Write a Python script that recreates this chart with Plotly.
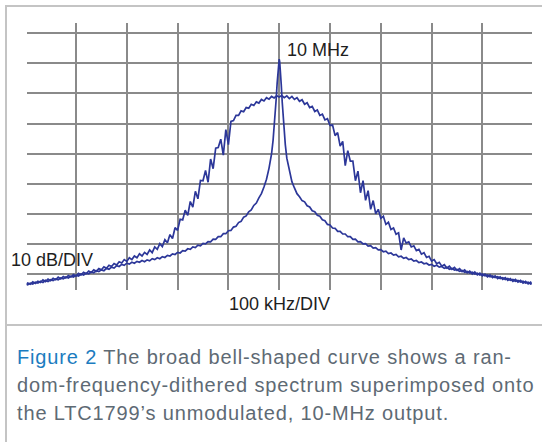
import plotly.graph_objects as go

# ---------------- data ----------------
# Broad, random-frequency-dithered spectrum: offset from 10 MHz (kHz) and level (dB)
bell_freq_khz = [
    -500, -495, -490, -485, -480, -475, -470, -465, -460, -455, -450, -445, -440, -435, -430, -425, -420, -415, -410, -405, -400,
    -395, -390, -385, -380, -375, -370, -365, -360, -355, -350, -345, -340, -335, -330, -325, -320, -315, -310, -305, -300,
    -295, -290, -285, -280, -275, -270, -265, -260, -255, -250, -245, -240, -235, -230, -225, -220, -215, -210, -205, -200,
    -195, -190, -185, -180, -175, -170, -165, -160, -155, -150, -145, -140, -135, -130, -125, -120, -115, -110, -105, -100,
    -95, -90, -85, -80, -75, -70, -65, -60, -55, -50, -45, -40, -35, -30, -25, -20, -15, -10, -5, 0,
    5, 10, 15, 20, 25, 30, 35, 40, 45, 50, 55, 60, 65, 70, 75, 80, 85, 90, 95, 100,
    105, 110, 115, 120, 125, 130, 135, 140, 145, 150, 155, 160, 165, 170, 175, 180, 185, 190, 195, 200,
    205, 210, 215, 220, 225, 230, 235, 240, 245, 250, 255, 260, 265, 270, 275, 280, 285, 290, 295, 300,
    305, 310, 315, 320, 325, 330, 335, 340, 345, 350, 355, 360, 365, 370, 375, 380, 385, 390, 395, 400,
    405, 410, 415, 420, 425, 430, 435, 440, 445, 450, 455, 460, 465, 470, 475, 480, 485, 490, 495, 500,
]
bell_level_db = [
    -83.6, -83.0, -83.4, -82.6, -83.1, -82.4, -82.8, -81.9, -82.5, -81.7, -82.2, -81.4, -81.9, -81.0, -81.6, -80.8, -81.3, -80.5, -81.0, -80.2, -80.7,
    -79.8, -80.3, -79.4, -79.9, -79.0, -79.5, -78.6, -79.1, -78.2, -78.6, -77.6, -78.1, -77.1, -77.5, -76.5, -77.0, -75.9, -76.3, -75.2, -75.8,
    -74.6, -75.2, -74.0, -74.6, -73.3, -74.0, -72.8, -73.5, -72.0, -72.9, -71.0, -71.8, -69.9, -70.9, -68.6, -69.6, -66.9, -68.2, -64.6, -65.5,
    -61.8, -62.0, -58.8, -60.5, -55.9, -57.8, -52.5, -55.0, -48.9, -49.0, -45.6, -49.5, -41.8, -45.0, -38.2, -38.0, -35.2, -40.5, -32.0, -37.0,
    -29.3, -29.0, -27.3, -27.3, -25.8, -26.1, -24.7, -24.9, -23.6, -24.0, -22.8, -23.2, -22.0, -22.5, -21.4, -21.9, -21.0, -21.5, -20.8, -21.2,
    -20.7, -21.4, -20.8, -21.7, -21.0, -22.0, -21.4, -22.6, -22.1, -23.6, -23.1, -24.7, -24.3, -26.0, -25.5, -27.3, -26.9, -28.8, -28.4, -30.6,
    -30.5, -34.0, -33.0, -37.5, -35.9, -44.0, -39.0, -42.5, -42.5, -49.0, -45.8, -53.0, -49.0, -55.5, -52.3, -58.5, -55.6, -60.0, -58.5, -61.5,
    -60.8, -63.5, -62.8, -65.2, -64.7, -66.8, -66.3, -72.0, -68.0, -69.7, -69.3, -71.0, -70.6, -72.2, -71.8, -73.4, -72.9, -74.5, -74.1, -75.7,
    -75.2, -76.6, -76.1, -77.4, -76.9, -78.0, -77.4, -78.4, -77.8, -78.8, -78.2, -79.2, -78.6, -79.6, -79.0, -80.0, -79.3, -80.3, -79.7, -80.6,
    -80.0, -80.9, -80.3, -81.2, -80.6, -81.5, -80.9, -81.8, -81.2, -82.1, -81.5, -82.4, -81.8, -82.7, -82.1, -83.0, -82.4, -83.3, -82.7, -83.5,
]

# Unmodulated 10-MHz output: offset from 10 MHz (kHz) and level (dB)
carrier_freq_khz = [
    -500, -495, -490, -485, -480, -475, -470, -465, -460, -455, -450, -445, -440, -435, -430, -425, -420, -415, -410, -405, -400,
    -395, -390, -385, -380, -375, -370, -365, -360, -355, -350, -345, -340, -335, -330, -325, -320, -315, -310, -305, -300,
    -295, -290, -285, -280, -275, -270, -265, -260, -255, -250, -245, -240, -235, -230, -225, -220, -215, -210, -205, -200,
    -195, -190, -185, -180, -175, -170, -165, -160, -155, -150, -145, -140, -135, -130, -125, -120, -115, -110, -105, -100,
    -95, -90, -85, -80, -75, -70, -65, -60, -55, -50, -45, -40, -35, -30,
    -25, -20, -15, -12, -10, -8, -6, -4, -3, -2, -1, 0, 1, 2, 3, 4, 6, 8, 10, 12, 15, 20, 25,
    30, 35, 40, 45, 50, 55, 60, 65, 70, 75, 80, 85, 90, 95, 100,
    105, 110, 115, 120, 125, 130, 135, 140, 145, 150, 155, 160, 165, 170, 175, 180, 185, 190, 195, 200,
    205, 210, 215, 220, 225, 230, 235, 240, 245, 250, 255, 260, 265, 270, 275, 280, 285, 290, 295, 300,
    305, 310, 315, 320, 325, 330, 335, 340, 345, 350, 355, 360, 365, 370, 375, 380, 385, 390, 395, 400,
    405, 410, 415, 420, 425, 430, 435, 440, 445, 450, 455, 460, 465, 470, 475, 480, 485, 490, 495, 500,
]
carrier_level_db = [
    -83.3, -83.6, -83.0, -83.3, -82.7, -83.0, -82.4, -82.8, -82.1, -82.5, -81.9, -82.2, -81.6, -81.9, -81.3, -81.6, -81.0, -81.3, -80.7, -81.0, -80.4,
    -80.7, -80.0, -80.3, -79.7, -79.9, -79.3, -79.6, -78.9, -79.2, -78.6, -78.9, -78.1, -78.4, -77.7, -78.0, -77.2, -77.5, -76.8, -77.1, -76.4,
    -76.7, -76.1, -76.4, -75.8, -76.1, -75.5, -75.9, -75.3, -75.6, -74.9, -75.2, -74.6, -74.9, -74.2, -74.5, -73.8, -74.0, -73.3, -73.5, -72.8,
    -73.0, -72.2, -72.4, -71.6, -71.8, -71.0, -71.2, -70.4, -70.6, -69.8, -70.0, -69.2, -69.3, -68.4, -68.5, -67.6, -67.6, -66.6, -66.6, -65.6,
    -65.5, -64.4, -64.1, -62.9, -62.5, -61.1, -60.7, -59.3, -58.7, -57.2, -56.4, -54.7, -53.3, -51.1,
    -48.5, -44.8, -40.0, -35.5, -31.5, -27.0, -22.0, -16.5, -13.5, -11.0, -9.3, -8.6, -9.5, -11.5, -14.0, -17.0, -23.0, -28.0, -33.0, -37.0, -41.5, -46.0, -49.3,
    -51.4, -53.3, -54.3, -55.6, -56.0, -57.3, -57.7, -59.0, -59.3, -60.5, -60.8, -62.0, -62.3, -63.5, -63.7,
    -64.7, -64.8, -65.8, -65.8, -66.7, -66.7, -67.6, -67.6, -68.5, -68.4, -69.3, -69.2, -70.0, -69.9, -70.7, -70.6, -71.4, -71.2, -72.0, -71.9,
    -72.6, -72.4, -73.2, -73.0, -73.7, -73.5, -74.3, -74.1, -74.8, -74.5, -75.2, -75.0, -75.7, -75.5, -76.2, -76.0, -76.6, -76.4, -77.0, -76.8,
    -77.4, -77.1, -77.7, -77.5, -78.1, -77.8, -78.4, -78.1, -78.7, -78.5, -79.1, -78.8, -79.4, -79.1, -79.7, -79.4, -80.0, -79.7, -80.3, -80.0,
    -80.6, -80.3, -80.9, -80.6, -81.2, -80.9, -81.5, -81.2, -81.8, -81.5, -82.1, -81.8, -82.4, -82.1, -82.7, -82.4, -83.0, -82.7, -83.3, -83.0,
]

peak_label = "10 MHz"
y_scale_label = "10 dB/DIV"
x_scale_label = "100 kHz/DIV"
caption_lead = "Figure 2"
caption_lines = [
    " The broad bell-shaped curve shows a ran-",
    "dom-frequency-dithered spectrum superimposed onto",
    "the LTC1799\u2019s unmodulated, 10-MHz output.",
]

# ---------------- layout helpers ----------------
W, H = 542, 442
TRACE = "#2c3799"
GRID = "#8a8a8a"
FRAME = "#c4c4c4"
FONT = "Liberation Sans, Arial, sans-serif"
CAP_GRAY = "#5e6a74"
CAP_BLUE = "#1b7cc0"
SPACING = "letter-spacing:0.85px"


def px(x):
    return x / W


def py(y):
    return 1 - y / H


fig = go.Figure()
fig.add_trace(go.Scatter(x=carrier_freq_khz, y=carrier_level_db, mode="lines",
                         line=dict(color=TRACE, width=1.7), hoverinfo="skip"))
fig.add_trace(go.Scatter(x=bell_freq_khz, y=bell_level_db, mode="lines",
                         line=dict(color=TRACE, width=1.7), hoverinfo="skip"))

axis_common = dict(showgrid=True, gridcolor=GRID, gridwidth=2, zeroline=False,
                   showline=False, showticklabels=False, ticks="", fixedrange=True)
fig.update_layout(
    width=W, height=H, autosize=False,
    margin=dict(l=0, r=0, t=0, b=0),
    paper_bgcolor="white", plot_bgcolor="white",
    showlegend=False,
    xaxis=dict(range=[-497, 497], domain=[px(26.7), px(531.7)], tick0=0, dtick=100, **axis_common),
    yaxis=dict(range=[-85.3, 3.3], domain=[py(290), py(23.3)], tick0=0, dtick=10, **axis_common),
    font=dict(family=FONT, color="#1e1e1e"),
)

shapes = [
    dict(type="line", xref="paper", yref="paper", x0=px(5), x1=1.0, y0=py(6), y1=py(6),
         line=dict(color=FRAME, width=2), layer="above"),
    dict(type="line", xref="paper", yref="paper", x0=px(6), x1=px(6), y0=py(5), y1=0,
         line=dict(color=FRAME, width=2), layer="above"),
    dict(type="line", xref="paper", yref="paper", x0=px(6), x1=1.0, y0=py(325), y1=py(325),
         line=dict(color=FRAME, width=2), layer="above"),
]
fig.update_layout(shapes=shapes)

ann = [
    dict(text=peak_label, x=px(285), y=py(50), xanchor="left", yanchor="middle",
         font=dict(size=18, color="#1e1e1e", family=FONT)),
    dict(text=y_scale_label, x=px(9), y=py(259.5), xanchor="left", yanchor="middle",
         font=dict(size=18, color="#1e1e1e", family=FONT)),
    dict(text=x_scale_label, x=px(279.5), y=py(303.5), xanchor="center", yanchor="middle",
         font=dict(size=18, color="#1e1e1e", family=FONT)),
]
caption_y = [357, 385, 412.5]
caption_texts = [
    f"<span style='color:{CAP_BLUE};{SPACING}'>{caption_lead}</span>"
    f"<span style='{SPACING}'>{caption_lines[0]}</span>",
    f"<span style='{SPACING}'>{caption_lines[1]}</span>",
    f"<span style='{SPACING}'>{caption_lines[2]}</span>",
]
for line, yc in zip(caption_texts, caption_y):
    ann.append(dict(text=line, x=px(15), y=py(yc), xanchor="left", yanchor="middle",
                    font=dict(size=20, color=CAP_GRAY, family=FONT)))
for a in ann:
    a.update(xref="paper", yref="paper", showarrow=False)
fig.update_layout(annotations=ann)

fig.write_html("out.html", config={"displayModeBar": False},
               post_script="document.body.style.margin='0';")
